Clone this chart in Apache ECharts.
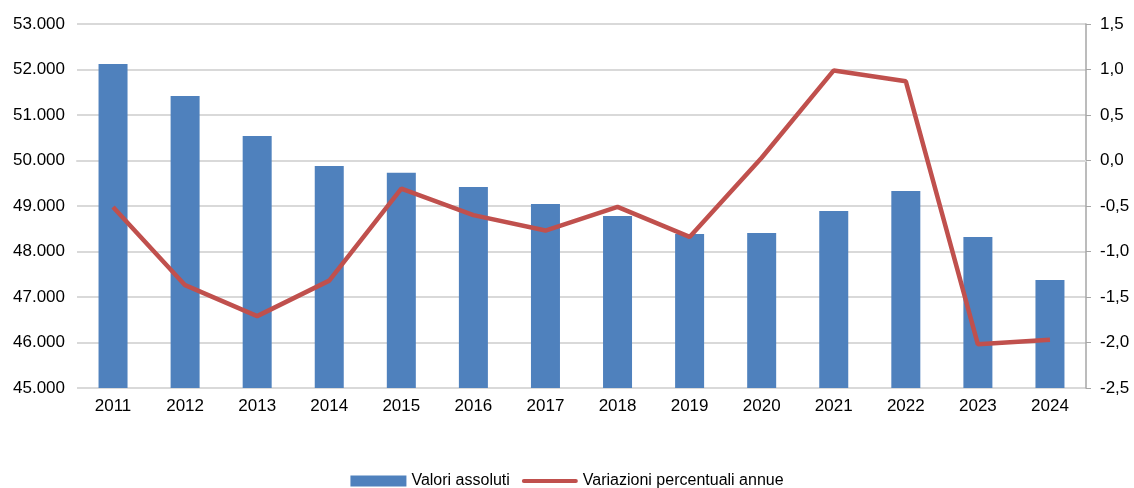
<!DOCTYPE html>
<html>
<head>
<meta charset="utf-8">
<script src="https://cdn.jsdelivr.net/npm/echarts@6/dist/echarts.min.js"></script>
<style>
	html, body { margin: 0; padding: 0; background: #fff; }
	#chart { width: 1134px; height: 488px; }
</style>
</head>
<body>
<div id="chart"></div>
<script>
	const years = ['2011', '2012', '2013', '2014', '2015', '2016', '2017', '2018', '2019', '2020', '2021', '2022', '2023', '2024'];
	// valori assoluti (asse sinistro)
	const valori = [52120, 51420, 50540, 49880, 49730, 49420, 49045, 48780, 48385, 48405, 48890, 49330, 48320, 47375];
	// variazioni percentuali annue (asse destro)
	const variazioni = [-0.51, -1.37, -1.71, -1.32, -0.31, -0.60, -0.77, -0.51, -0.84, 0.03, 0.99, 0.87, -2.02, -1.97];

	const chart = echarts.init(document.getElementById('chart'));
	const font = 'Liberation Sans';

	chart.setOption({
		animation: false,
		textStyle: { fontFamily: font },
		grid: { left: 77, right: 48, top: 24, bottom: 100, containLabel: false },
		legend: {
			bottom: -6,
			left: 'center',
			itemGap: 12,
			itemWidth: 56,
			itemHeight: 11,
			textStyle: { fontSize: 16, color: '#000', fontFamily: font },
			data: [
				{ name: 'Valori assoluti', icon: 'rect' },
				{ name: 'Variazioni percentuali annue', icon: 'path://M2,0 L54,0 A2,2 0 0 1 54,4 L2,4 A2,2 0 0 1 2,0 Z' }
			]
		},
		xAxis: {
			type: 'category',
			data: years,
			axisLine: { show: true, lineStyle: { color: '#d9d9d9', width: 2 } },
			axisTick: { show: false },
			axisLabel: { fontSize: 17, color: '#000', margin: 10 }
		},
		yAxis: [{
			type: 'value',
			min: 45000,
			max: 53000,
			interval: 1000,
			axisLine: { show: false },
			axisTick: { show: false },
			axisLabel: {
				fontSize: 17,
				color: '#000',
				margin: 12,
				formatter: function (v) {
					return (v / 1000).toFixed(3);
				}
			},
			splitLine: { lineStyle: { color: '#d9d9d9', width: 2 } }
		}, {
			type: 'value',
			min: -2.5,
			max: 1.5,
			interval: 0.5,
			position: 'right',
			axisLine: { show: true, lineStyle: { color: '#a6a6a6', width: 1.5 } },
			axisTick: { show: true, inside: false, length: 5, lineStyle: { color: '#a6a6a6' } },
			axisLabel: {
				fontSize: 17,
				color: '#000',
				margin: 14,
				formatter: function (v) {
					return v.toFixed(1).replace('.', ',');
				}
			},
			splitLine: { show: false }
		}],
		series: [{
			name: 'Valori assoluti',
			type: 'bar',
			data: valori,
			barWidth: 29,
			itemStyle: { color: '#4F81BD' }
		}, {
			name: 'Variazioni percentuali annue',
			type: 'line',
			yAxisIndex: 1,
			data: variazioni,
			symbol: 'none',
			lineStyle: { color: '#C0504D', width: 4.5 },
			itemStyle: { color: '#C0504D' }
		}]
	});
</script>
</body>
</html>
